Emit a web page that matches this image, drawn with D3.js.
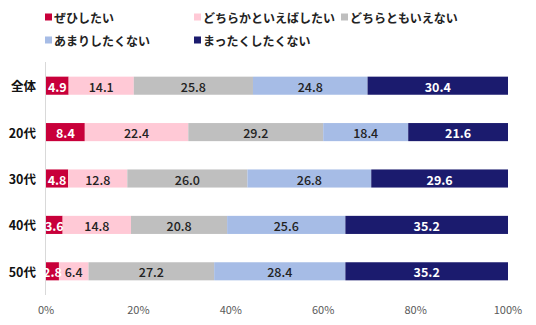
<!DOCTYPE html>
<html><head><meta charset="utf-8">
<script src="https://cdn.jsdelivr.net/npm/d3@7"></script>
<style>body{margin:0;background:#fff;}svg{display:block;font-family:"Noto Sans CJK JP","Noto Sans",sans-serif;}</style>
</head><body><svg id="c" width="536" height="325"></svg>
<script>
const categories = ["全体","20代","30代","40代","50代"];
const seriesNames = ["ぜひしたい","どちらかといえばしたい","どちらともいえない","あまりしたくない","まったくしたくない"];
const colors = ["#C8003A","#FFC9D6","#BFBFBF","#A6BCE6","#1B1B6E"];
const labelColors = ["#fff","#222","#222","#222","#fff"];
const v1 = [4.9,8.4,4.8,3.6,2.8];
const v2 = [14.1,22.4,12.8,14.8,6.4];
const v3 = [25.8,29.2,26.0,20.8,27.2];
const v4 = [24.8,18.4,26.8,25.6,28.4];
const v5 = [30.4,21.6,29.6,35.2,35.2];
const tickLabels = ["0%","20%","40%","60%","80%","100%"];
const series = [v1,v2,v3,v4,v5];

const svg = d3.select("#c");
const x = d3.scaleLinear().domain([0,100]).range([46,508]);
const y = d3.scaleBand().domain(categories).range([62.5,294.5]).paddingInner(0.61).paddingOuter(0.305);

const rows = categories.map((c,i)=>{let acc=0;return series.map((s,k)=>{const d={cat:c,k,v:s[i],x0:acc,x1:acc+s[i]};acc+=s[i];return d;});});

svg.append("line").attr("x1",45.5).attr("x2",45.5).attr("y1",62).attr("y2",295).attr("stroke","#d9d9d9").attr("stroke-width",1);

const g = svg.append("g");
rows.forEach(r=>{
  g.selectAll(null).data(r).enter().append("rect")
   .attr("x",d=>x(d.x0)).attr("width",d=>x(d.x1)-x(d.x0))
   .attr("y",d=>y(d.cat)).attr("height",y.bandwidth())
   .attr("fill",d=>colors[d.k]);
  g.selectAll(null).data(r).enter().append("text")
   .attr("x",d=>(x(d.x0)+x(d.x1))/2).attr("y",d=>y(d.cat)+y.bandwidth()/2+0.5)
   .attr("text-anchor","middle").attr("dominant-baseline","central")
   .attr("font-size",12.5).attr("font-weight",d=>(d.k===0||d.k===4)?"bold":"500")
   .attr("fill",d=>labelColors[d.k]).text(d=>d.v.toFixed(1));
});

svg.selectAll(null).data(categories).enter().append("text")
  .attr("x",36).attr("y",d=>y(d)+y.bandwidth()/2).attr("text-anchor","end")
  .attr("dominant-baseline","central").attr("font-size",12.5).attr("font-weight","bold").attr("fill","#111").text(d=>d);

const ticks = d3.range(0,101,20);
svg.selectAll(null).data(ticks).enter().append("text")
  .attr("x",d=>x(d)).attr("y",309).attr("text-anchor","middle").attr("dominant-baseline","central")
  .attr("font-size",11).attr("fill","#595959").text((d,i)=>tickLabels[i]);

const legPos = [[45,17],[194,17],[341,17],[45,40],[194,40]];
seriesNames.forEach((n,i)=>{
  const [lx,ly]=legPos[i];
  svg.append("rect").attr("x",lx).attr("y",ly-3.5).attr("width",7).attr("height",7).attr("fill",colors[i]);
  svg.append("text").attr("x",lx+9).attr("y",ly).attr("dominant-baseline","central")
    .attr("font-size",12).attr("font-weight","bold").attr("fill","#222").text(n);
});
</script></body></html>
